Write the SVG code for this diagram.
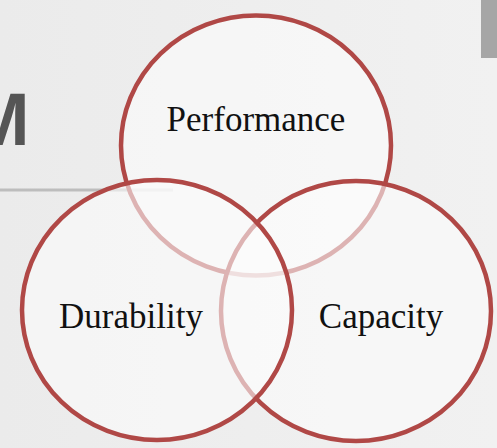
<svg xmlns="http://www.w3.org/2000/svg" width="497" height="448" viewBox="0 0 497 448">
  <defs>
    <linearGradient id="bg" x1="0" y1="0" x2="1" y2="0">
      <stop offset="0" stop-color="#ebebeb"/>
      <stop offset="1" stop-color="#f1f1f1"/>
    </linearGradient>
    <radialGradient id="dark" cx="0.5" cy="1" r="0.6">
      <stop offset="0" stop-color="#333"/>
      <stop offset="1" stop-color="#333" stop-opacity="0"/>
    </radialGradient>
  </defs>
  <style>
    .ring { fill: #fbfbfb; fill-opacity: 0.6; stroke: #b04846; stroke-width: 4.5; }
    .lbl { font-family: "Liberation Serif", "Times New Roman", serif; font-size: 35px; fill: #111; text-anchor: middle; }
  </style>
  <rect x="0" y="0" width="497" height="448" fill="url(#bg)"/>
  <g id="background">
    <text x="-32" y="145" font-family="Liberation Sans, Arial, sans-serif" font-weight="bold" font-size="74" fill="#555">M</text>
    <rect x="0" y="188.5" width="173" height="3" fill="#bdbdbd"/>
    <rect x="481" y="0" width="16" height="58" fill="#a6a6a6"/>
    <ellipse cx="115" cy="452" rx="40" ry="8" fill="url(#dark)"/>
    <ellipse cx="285" cy="452" rx="20" ry="6" fill="url(#dark)" opacity="0.5"/>
  </g>
  <g id="performance">
    <ellipse class="ring" cx="256" cy="145.5" rx="135" ry="130"/>
    <text class="lbl" x="256" y="131">Performance</text>
  </g>
  <g id="capacity">
    <ellipse class="ring" cx="356" cy="311" rx="135" ry="130"/>
  </g>
  <g id="durability">
    <ellipse class="ring" cx="157" cy="310" rx="135" ry="130"/>
  </g>
  <g id="labels">
    <text class="lbl" x="131" y="328">Durability</text>
    <text class="lbl" x="381" y="328">Capacity</text>
  </g>
  <g id="connectors"/>
</svg>
